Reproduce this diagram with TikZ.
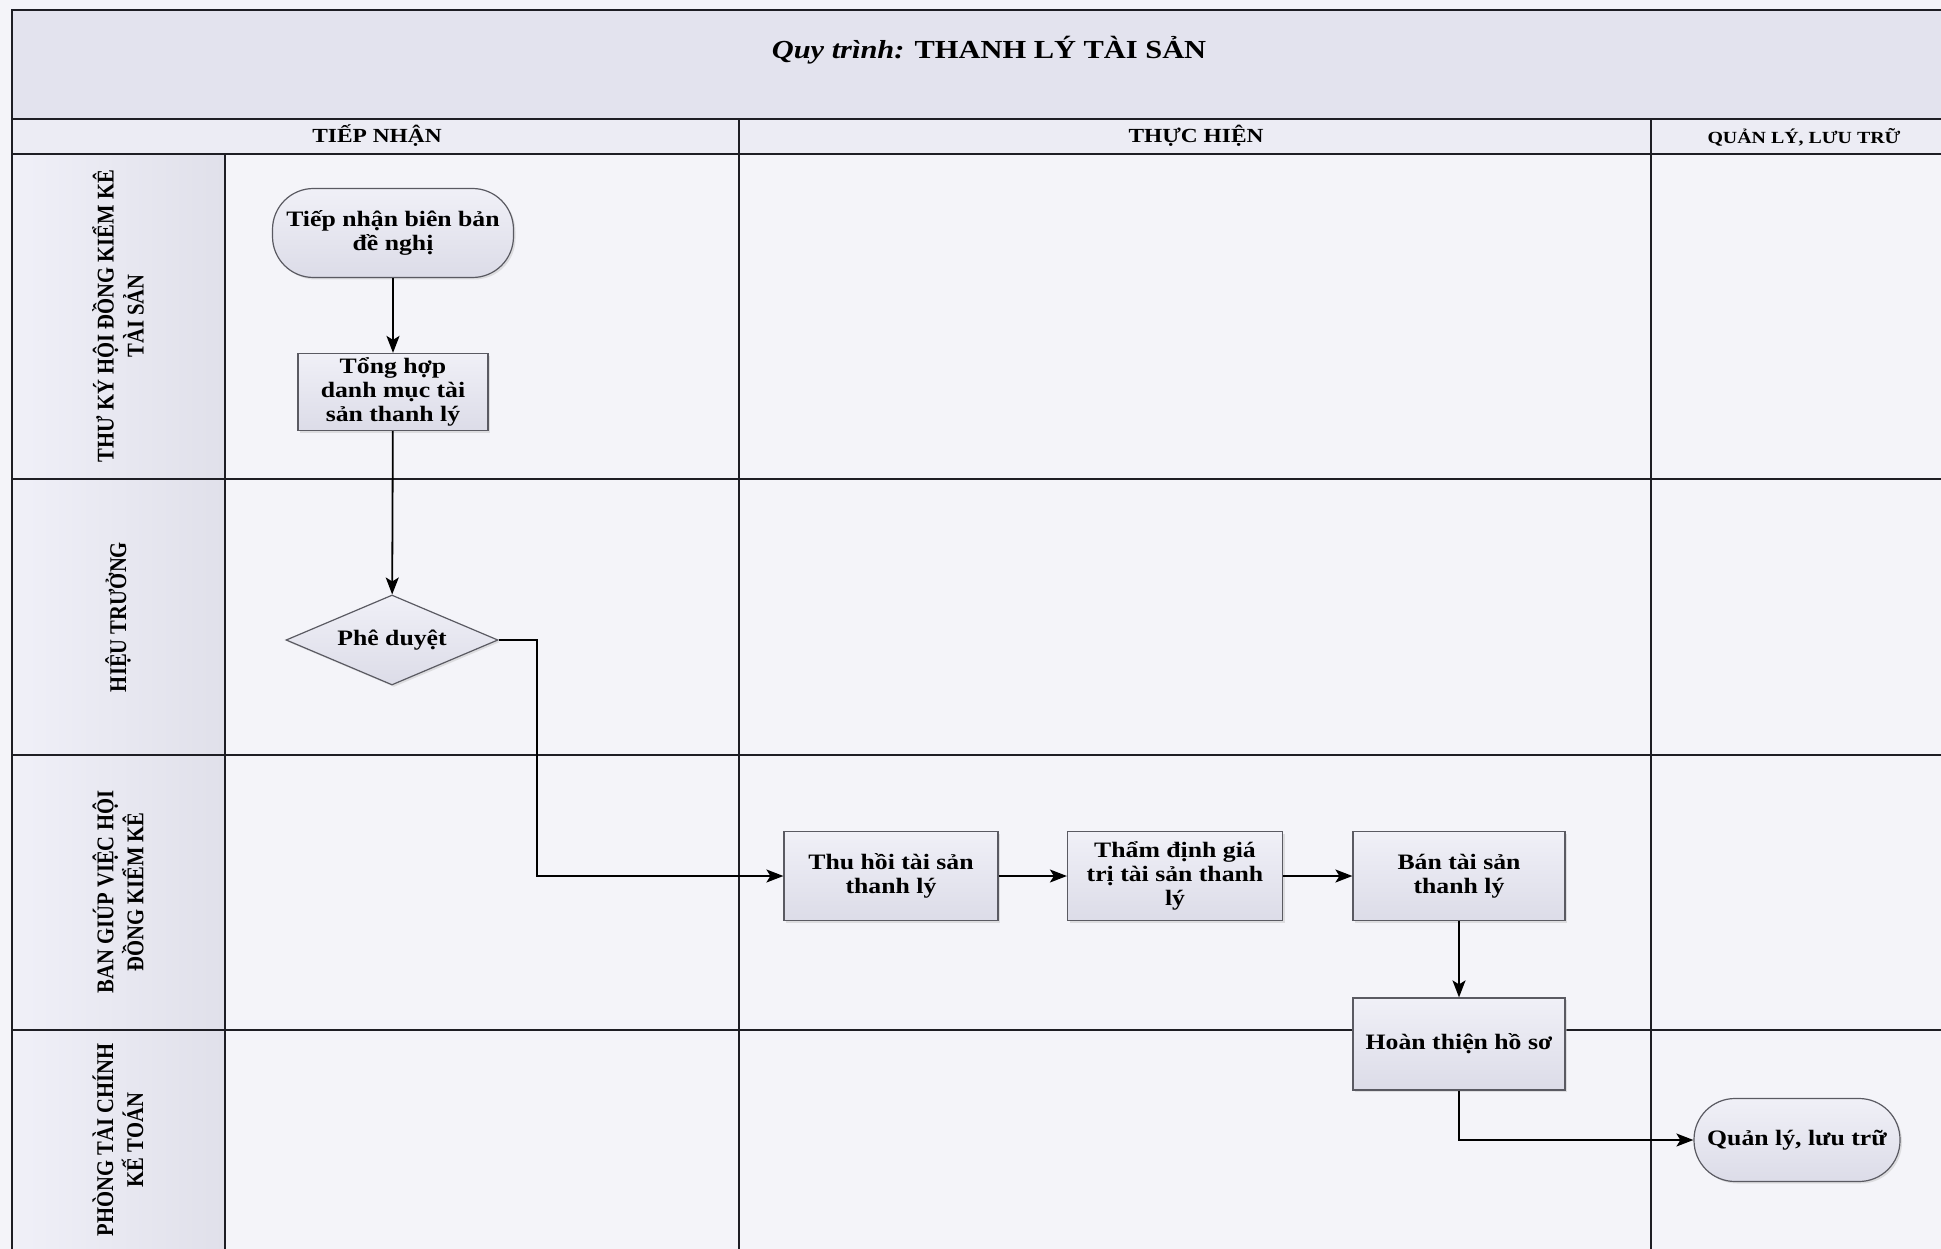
\documentclass[tikz,border=0pt]{standalone}
\usepackage{fontspec}
\setmainfont[FakeStretch=1.17]{Liberation Serif}
\newfontfamily\lanefont[FakeStretch=0.86]{Liberation Serif}
\usetikzlibrary{shapes.geometric,arrows.meta,shadows}
\definecolor{paper}{HTML}{F4F4F9}
\definecolor{titlebg}{HTML}{E3E3EE}
\definecolor{headbg}{HTML}{ECECF4}
\definecolor{lanebgA}{HTML}{F0F0F8}
\definecolor{lanebgB}{HTML}{E0E0EA}
\definecolor{boxtop}{HTML}{F0F0F7}
\definecolor{boxbot}{HTML}{DCDCE8}
\definecolor{boxline}{HTML}{5A5A62}
\definecolor{rule}{HTML}{1E1E24}
\begin{document}
\begin{tikzpicture}[x=1pt,y=-1pt]
    \tikzstyle{every node}=[font=\bfseries\fontsize{22}{24}\selectfont, align=center, text=black]
    \tikzstyle{box}=[draw=boxline, line width=1.2pt, top color=boxtop, bottom color=boxbot, drop shadow={shadow xshift=2pt, shadow yshift=-2pt, fill=gray!45}, inner sep=2pt]
    \tikzstyle{process}=[box, rectangle, minimum width=212pt, minimum height=89pt]
    \tikzstyle{terminal}=[box, rectangle, rounded corners=41pt]
    \tikzstyle{decision}=[box, diamond, aspect=2.35, minimum width=212pt, minimum height=90pt, inner sep=0pt]
    \tikzstyle{flow}=[line width=1.8pt, -{Stealth[length=17pt, width=13pt, inset=4pt]}]
    \tikzstyle{laneline}=[draw=rule, line width=1.9pt]
    \tikzstyle{lane}=[rotate=90, font=\lanefont\bfseries\fontsize{24}{30}\selectfont]
    \tikzstyle{head}=[font=\bfseries\fontsize{20}{24}\selectfont]
    \useasboundingbox (0,0) rectangle (1941,1249);
    % background and swimlane grid
    \fill[paper] (0,0) rectangle (1941,1249);
    \fill[titlebg] (12,10) rectangle (1941,119);
    \fill[headbg] (12,119) rectangle (1941,154);
    \shade[left color=lanebgA, right color=lanebgB] (12,154) rectangle (225,1249);
    \draw[laneline] (1941,10) -- (12,10) -- (12,1249);
    \foreach \y in {119,154,479,755,1030} \draw[laneline] (12,\y) -- (1941,\y);
    \draw[laneline] (225,154) -- (225,1249);
    \foreach \x in {739,1651} \draw[laneline] (\x,119) -- (\x,1249);
    % titles
    \node[font=\bfseries\fontsize{26}{30}\selectfont] (tieude) at (989,50) {\textit{Quy trình:} THANH LÝ TÀI SẢN};
    \node[head] (htiepnhan) at (377,136) {TIẾP NHẬN};
    \node[head] (hthuchien) at (1196,136) {THỰC HIỆN};
    \node[head, font=\bfseries\fontsize{17}{20}\selectfont] (hquanly) at (1804,137) {QUẢN LÝ, LƯU TRỮ};
    \node[lane] (lthuky) at (118,316) {THƯ KÝ HỘI ĐỒNG KIỂM KÊ\\TÀI SẢN};
    \node[lane] (lhieutruong) at (118,617) {HIỆU TRƯỞNG};
    \node[lane] (lbangiup) at (118,892) {BAN GIÚP VIỆC HỘI\\ĐỒNG KIỂM KÊ};
    \node[lane] (lphongtc) at (118,1140) {PHÒNG TÀI CHÍNH\\KẾ TOÁN};
    % steps
    \node[terminal, minimum width=241pt, minimum height=89pt] (tiepnhan) at (393,233) {Tiếp nhận biên bản\\đề nghị};
    \node[process, minimum width=190pt, minimum height=77pt] (tonghop) at (393,392) {Tổng hợp\\danh mục tài\\sản thanh lý};
    \node[decision] (pheduyet) at (392,640) {Phê duyệt};
    \node[process, minimum width=214pt] (thuhoi) at (891,876) {Thu hồi tài sản\\thanh lý};
    \node[process, minimum width=215pt] (thamdinh) at (1175,876) {Thẩm định giá\\trị tài sản thanh\\lý};
    \node[process] (ban) at (1459,876) {Bán tài sản\\thanh lý};
    \node[process, minimum height=92pt] (hoanthien) at (1459,1044) {Hoàn thiện hồ sơ};
    \node[terminal, minimum width=206pt, minimum height=83pt] (luutru) at (1797,1140) {Quản lý, lưu trữ};
    % connectors
    \draw[flow] (tiepnhan) -- (tonghop);
    \draw[flow] (tonghop) -- (pheduyet);
    \draw[flow] (pheduyet.east) -- ++(38,0) |- (thuhoi.west);
    \draw[flow] (thuhoi) -- (thamdinh);
    \draw[flow] (thamdinh) -- (ban);
    \draw[flow] (ban) -- (hoanthien);
    \draw[flow] (hoanthien.south) |- (luutru.west);
\end{tikzpicture}
\end{document}
